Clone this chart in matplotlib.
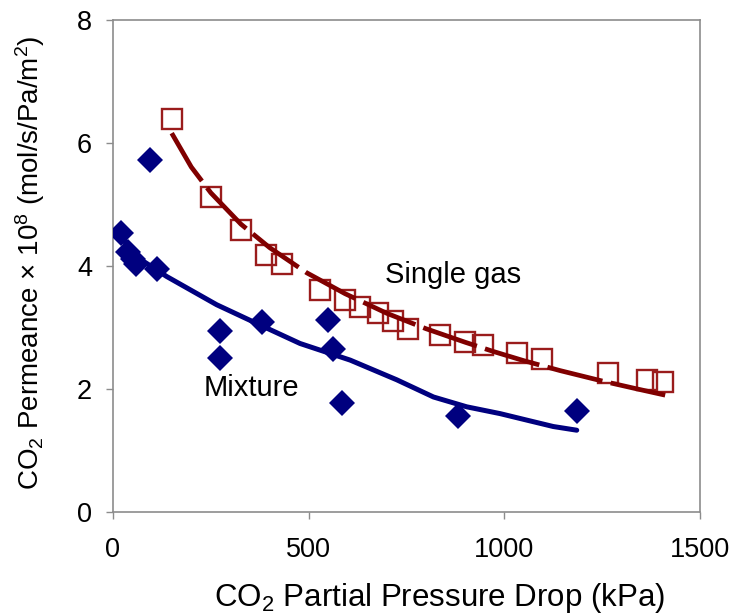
import matplotlib
matplotlib.use("Agg")
import matplotlib.pyplot as plt

plt.rcParams["font.family"] = ["Liberation Sans", "DejaVu Sans"]
plt.rcParams["mathtext.fontset"] = "custom"
plt.rcParams["mathtext.rm"] = "Liberation Sans"
plt.rcParams["mathtext.it"] = "Liberation Sans:italic"
plt.rcParams["mathtext.bf"] = "Liberation Sans:bold"

# Single-gas permeation data (kPa, permeance x 1e8)
single_dp = [150, 250, 327, 391, 431, 529, 593, 631, 678, 716, 755, 836, 900,
             946, 1032, 1096, 1266, 1364, 1406]
single_perm = [6.39, 5.13, 4.59, 4.18, 4.04, 3.61, 3.44, 3.34, 3.24, 3.10, 2.97,
               2.88, 2.77, 2.72, 2.58, 2.48, 2.26, 2.15, 2.12]

# Single-gas model curve
single_fit_dp = [150, 200, 250, 327, 400, 495, 593, 700, 800, 900, 972, 1050,
                 1142, 1250, 1340, 1411]
single_fit_perm = [6.16, 5.61, 5.19, 4.68, 4.30, 3.89, 3.55, 3.23, 2.98, 2.76,
                   2.61, 2.46, 2.30, 2.13, 2.00, 1.90]

# Mixture permeation data
mix_dp = [21, 38, 51, 60, 113, 95, 273, 273, 380, 550, 563, 584, 882, 1185]
mix_perm = [4.53, 4.23, 4.12, 4.04, 3.95, 5.73, 2.94, 2.50, 3.09, 3.12, 2.65,
            1.77, 1.56, 1.65]

# Mixture model curve
mix_fit_dp = [20, 60, 137, 265, 376, 478, 606, 725, 819, 904, 989, 1060, 1125, 1185]
mix_fit_perm = [4.48, 4.15, 3.83, 3.37, 3.04, 2.74, 2.47, 2.15, 1.87, 1.71, 1.60,
                1.49, 1.39, 1.33]

x_ticks = [0, 500, 1000, 1500]
y_ticks = [0, 2, 4, 6, 8]

red_edge = "#9a1c1c"
red_line = "#800000"
navy = "#00007f"
spine_gray = "#8c8c8c"

fig = plt.figure(figsize=(7.32, 6.15), dpi=100)
ax = fig.add_axes([113 / 732, 1 - 512 / 615, 587 / 732, 492 / 615])

ax.plot(single_dp, single_perm, linestyle="none", marker="s", markersize=14.5,
        markerfacecolor="none", markeredgecolor=red_edge, markeredgewidth=1.7, zorder=3)
ax.plot(single_fit_dp, single_fit_perm, color=red_line, linewidth=3.4,
        dashes=(12, 1.8), zorder=4)

ax.plot(mix_fit_dp, mix_fit_perm, color=navy, linewidth=3.6, zorder=3,
        solid_capstyle="round")
ax.plot(mix_dp, mix_perm, linestyle="none", marker="D", markersize=13.5,
        color=navy, markeredgewidth=0, zorder=4)

ax.text(869, 3.85, "Single gas", fontsize=21, ha="center", va="center")
ax.text(355, 2.02, "Mixture", fontsize=21, ha="center", va="center")

ax.set_xlim(0, 1500)
ax.set_ylim(0, 8)
ax.set_xticks(x_ticks)
ax.set_yticks(y_ticks)
ax.tick_params(axis="both", which="major", labelsize=19.5, direction="out",
               length=5, width=1, color=spine_gray, pad=10)
ax.tick_params(axis="x", pad=13)
for s in ax.spines.values():
    s.set_color(spine_gray)
    s.set_linewidth(1.2)

ax.set_xlabel("CO$_2$ Partial Pressure Drop (kPa)", fontsize=22.5)
ax.xaxis.set_label_coords((440 - 113) / 587, -(598 - 512) / 492)
ax.xaxis.label.set_va("center")
ax.set_ylabel("CO$_2$ Permeance × 10$^8$ (mol/s/Pa/m$^2$)", fontsize=20)
ax.yaxis.set_label_coords(-(113 - 30) / 587, (512 - 263) / 492)
ax.yaxis.label.set_va("center")

fig.savefig("out.png", dpi=100)
